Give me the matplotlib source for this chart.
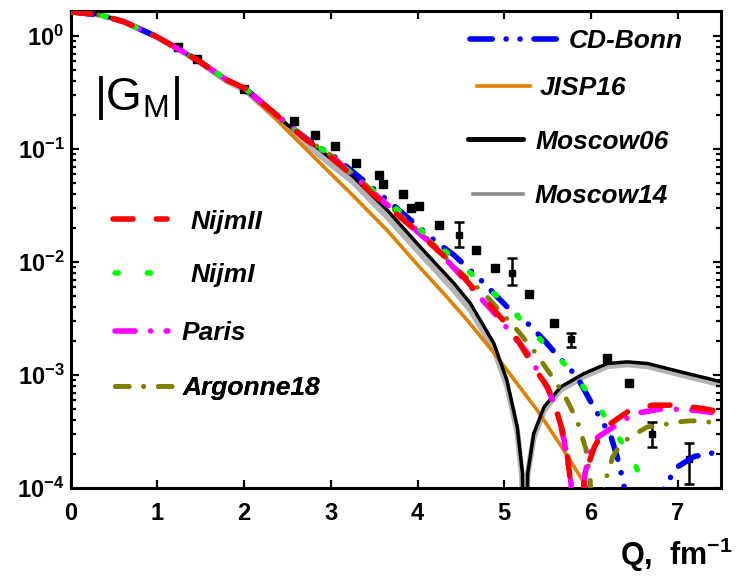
import numpy as np
import matplotlib
matplotlib.use("Agg")
import matplotlib.pyplot as plt
from matplotlib.lines import Line2D
from matplotlib.ticker import FixedLocator, LogLocator, FuncFormatter, NullFormatter

plt.rcParams['font.family'] = ['Liberation Sans', 'DejaVu Sans']
plt.rcParams['mathtext.default'] = 'regular'

# ---------------- data ----------------
# shared low-Q part of all curves
q_head = [0.0, 0.34, 0.61, 0.99, 1.26, 1.49, 1.80, 2.01, 2.26, 2.49]
gm_head = [1.64, 1.535, 1.34, 0.986, 0.752, 0.593, 0.408, 0.344, 0.237, 0.169]

cdbonn_q = [2.73, 3.03, 3.23, 3.65, 4.19, 4.42, 4.73, 5.07, 5.27, 5.46, 5.61, 5.84,
            6.03, 6.23, 6.32, 6.38, 6.60, 6.84, 7.00, 7.19, 7.46, 7.50]
cdbonn_gm = [0.1216, 0.0871, 0.0652, 0.0354, 0.01567, 0.01153, 0.00693, 0.00376,
             0.00287, 0.00204, 0.00150, 0.000966, 0.000525, 0.000288, 0.000170,
             0.000107, 1e-6, 0.000102, 0.000155, 0.000191, 0.000209, 0.000210]

nijm1_q = [2.73, 3.03, 3.21, 3.75, 4.00, 4.26, 4.52, 4.76, 5.02, 5.27, 5.50, 5.73,
           5.96, 6.15, 6.34, 6.52, 6.62, 7.00, 7.48, 7.50]
nijm1_gm = [0.1202, 0.0861, 0.0631, 0.0299, 0.0203, 0.01365, 0.00923, 0.00631,
            0.0043, 0.00267, 0.00178, 0.00118, 0.000711, 0.000443, 0.000266,
            0.000155, 0.000101, 1e-6, 0.000100, 0.000105]

nijm2_q = [2.73, 2.92, 3.11, 3.36, 3.52, 3.78, 3.98, 4.21, 4.40, 4.61, 4.80, 5.02,
           5.17, 5.34, 5.50, 5.59, 5.67, 5.73, 5.77, 5.83, 5.92, 6.04, 6.17, 6.42,
           6.71, 6.98, 7.29, 7.50]
nijm2_gm = [0.1189, 0.0946, 0.0721, 0.0490, 0.0380, 0.0257, 0.0191, 0.0132,
            0.00973, 0.00625, 0.00446, 0.00287, 0.00197, 0.00118, 0.000787,
            0.000525, 0.000326, 0.000189, 0.000103, 1e-6, 0.000126, 0.000232,
            0.000349, 0.000473, 0.000543, 0.000543, 0.000507, 0.000473]

paris_q = [2.73, 3.03, 3.36, 3.78, 4.21, 4.46, 4.61, 4.82, 4.94, 5.27, 5.50, 5.59,
           5.69, 5.77, 5.81, 5.93, 6.00, 6.08, 6.50, 6.84, 7.19, 7.50]
paris_gm = [0.1189, 0.0832, 0.0501, 0.0263, 0.01334, 0.0082, 0.00604, 0.00402,
            0.00318, 0.00156, 0.000762, 0.000525, 0.000266, 0.000111, 1e-6,
            0.000135, 0.000217, 0.000284, 0.000458, 0.000507, 0.000490, 0.000457]

av18_q = [2.73, 3.03, 3.36, 3.78, 4.21, 4.44, 4.57, 4.77, 4.96, 5.17, 5.36, 5.54,
          5.71, 5.84, 5.94, 5.99, 6.06, 6.15, 6.20, 6.25, 6.32, 6.40, 6.52, 6.65,
          6.82, 6.96, 7.15, 7.29, 7.42, 7.50]
av18_gm = [0.1202, 0.0851, 0.0513, 0.0269, 0.0138, 0.00879, 0.00724, 0.00525,
           0.00363, 0.0024, 0.00158, 0.00100, 0.00063, 0.000398, 0.000224,
           0.000126, 1e-6, 0.000110, 0.000139, 0.000189, 0.000232, 0.000266,
           0.000305, 0.000349, 0.000361, 0.000384, 0.000395, 0.000394, 0.000378,
           0.000368]

mos06_q = [2.49, 2.88, 3.26, 3.65, 4.03, 4.42, 4.61, 4.88, 5.03, 5.15, 5.21, 5.237,
           5.27, 5.34, 5.46, 5.65, 5.92, 6.19, 6.42, 6.65, 6.88, 7.11, 7.35, 7.50]
mos06_gm = [0.166, 0.098, 0.0569, 0.0288, 0.01365, 0.00649, 0.00431, 0.00191,
            0.000904, 0.000348, 0.000135, 1e-6, 0.000135, 0.000305, 0.000525,
            0.000787, 0.001035, 0.00127, 0.001312, 0.00127, 0.001146, 0.001035,
            0.000935, 0.000873]

mos14_q = [1.49, 1.80, 2.01, 2.26, 2.49, 2.88, 3.26, 3.65, 4.03, 4.42, 4.61, 4.88,
           5.03, 5.15, 5.205, 5.23, 5.265, 5.34, 5.46, 5.65, 5.92, 6.19, 6.42, 6.65,
           6.88, 7.11, 7.35, 7.50]
mos14_gm = [0.582, 0.398, 0.331, 0.224, 0.157, 0.0871, 0.0507, 0.0251, 0.0119,
            0.00565, 0.00376, 0.0017, 0.000813, 0.000316, 0.000126, 1e-6, 0.000126,
            0.000282, 0.00049, 0.000741, 0.000977, 0.0012, 0.001245, 0.0012,
            0.001084, 0.000977, 0.000881, 0.000822]

jisp_q = [2.01, 2.34, 2.88, 3.27, 3.65, 4.03, 4.34, 4.58, 4.88, 5.38, 5.65, 5.96, 6.00]
jisp_gm = [0.335, 0.193, 0.0746, 0.0378, 0.0191, 0.00891, 0.0049, 0.00302, 0.00158,
           0.00049, 0.00024, 0.000100, 1e-6]

exp_q = [1.24, 1.46, 2.00, 2.58, 2.82, 3.05, 3.29, 3.55, 3.60, 3.83, 3.93, 4.02,
         4.25, 4.67, 4.89, 5.29, 5.57, 6.18, 6.44]
exp_gm = [0.804, 0.622, 0.343, 0.176, 0.133, 0.106, 0.0747, 0.0589, 0.0495, 0.0402,
          0.0299, 0.0313, 0.0212, 0.01277, 0.00891, 0.00521, 0.00287, 0.001406,
          0.000855]

err_q = [4.48, 5.09, 5.77, 6.70, 7.13]
err_gm = [0.0173, 0.00794, 0.00207, 0.000305, 0.000180]
err_lo = [0.01365, 0.00625, 0.00178, 0.000232, 0.000110]
err_hi = [0.0228, 0.01084, 0.00234, 0.000386, 0.000249]

x_ticks = [0, 1, 2, 3, 4, 5, 6, 7]
y_ticks = [1e-4, 1e-3, 1e-2, 1e-1, 1e0]

# ---------------- figure ----------------
fig = plt.figure(figsize=(7.39, 5.88), dpi=100)
ax = fig.add_axes([0.0957, 0.1696, 0.880, 0.811])
ax.set_yscale('log')

def full(head_n, q, g):
    return (np.concatenate([q_head[:head_n], q]), np.concatenate([gm_head[:head_n], g]))

styles = {
    'CD-Bonn':   dict(color='#0000FF', lw=4.0, dashes=(4.0, 2.5, 0.01, 2.5, 0.01, 2.5), zorder=4),
    'NijmII':    dict(color='#FF0000', lw=4.0, dashes=(3.6, 4.2), zorder=8),
    'NijmI':     dict(color='#00FF00', lw=4.0, dashes=(0.6, 5.2), zorder=7),
    'Paris':     dict(color='#FF00FF', lw=4.0, dashes=(3.6, 2.8, 0.01, 2.8), zorder=6),
    'Argonne18': dict(color='#808000', lw=3.5, dashes=(2.8, 3.0, 0.01, 3.0), zorder=5),
    'JISP16':    dict(color='#E08000', lw=2.6, zorder=2),
    'Moscow06':  dict(color='black', lw=2.5, zorder=3),
    'Moscow14':  dict(color='#B4B4B4', lw=4.2, zorder=1),
}

curves = {
    'CD-Bonn': full(10, cdbonn_q, cdbonn_gm),
    'NijmII': full(10, nijm2_q, nijm2_gm),
    'NijmI': full(10, nijm1_q, nijm1_gm),
    'Paris': full(10, paris_q, paris_gm),
    'Argonne18': full(10, av18_q, av18_gm),
    'JISP16': full(7, jisp_q, jisp_gm),
    'Moscow06': full(9, mos06_q, mos06_gm),
    'Moscow14': full(5, mos14_q, mos14_gm),
}

for name, (q, g) in curves.items():
    st = dict(styles[name])
    kw = dict(color=st['color'], lw=st['lw'], zorder=st['zorder'])
    if 'dashes' in st:
        kw['dashes'] = st['dashes']
        kw['dash_capstyle'] = 'round'
    ax.plot(q, g, **kw)

ax.plot(exp_q, exp_gm, 's', color='black', ms=6, zorder=2.5)
eg = np.array(err_gm)
ax.errorbar(err_q, err_gm, yerr=[eg - np.array(err_lo), np.array(err_hi) - eg],
            fmt='s', color='black', ms=5, elinewidth=1.8, capsize=3.5, capthick=1.8,
            zorder=2.5)

ax.set_xlim(0, 7.5)
ax.set_ylim(1e-4, 1.65)
ax.xaxis.set_major_locator(FixedLocator(x_ticks))
ax.yaxis.set_major_locator(FixedLocator(y_ticks))
ax.yaxis.set_minor_locator(LogLocator(base=10, subs=np.arange(2, 10)))
ax.yaxis.set_minor_formatter(NullFormatter())
ax.yaxis.set_major_formatter(FuncFormatter(lambda v, p: '10$^{%d}$' % int(round(np.log10(v)))))

ax.tick_params(which='both', direction='in', top=True, right=True, width=1.6)
ax.tick_params(which='major', length=6)
ax.tick_params(which='minor', length=3.5)
ax.tick_params(axis='x', labelsize=17, pad=10)
ax.tick_params(axis='y', labelsize=17, pad=4.5)
for lab in ax.get_xticklabels() + ax.get_yticklabels():
    lab.set_fontweight('bold')
for sp in ax.spines.values():
    sp.set_linewidth(2.2)

ax.set_xlabel('Q,  fm$^{-1}$', fontsize=22, fontweight='bold', loc='right')
ax.xaxis.set_label_coords(1.018, -0.10)

ax.text(0.036, 0.793, '|G$_{M}$|', transform=ax.transAxes, fontsize=33,
        fontweight='normal', va='baseline', ha='left')

# ---------------- legends ----------------
lprop = dict(family='Liberation Sans', weight='bold', style='italic', size=19)
leg_pos = {
    'CD-Bonn':   (0.614, 0.937, 3.41, 0.34),
    'JISP16':    (0.625, 0.839, 2.00, 0.38),
    'Moscow06':  (0.611, 0.727, 2.08, 0.49),
    'Moscow14':  (0.619, 0.612, 1.90, 0.42),
    'NijmII':    (0.065, 0.559, 2.05, 0.87),
    'NijmI':     (0.068, 0.447, 1.60, 1.25),
    'Paris':     (0.068, 0.325, 2.00, 0.52),
    'Argonne18': (0.068, 0.210, 2.16, 0.40),
}
for name, (xf, yf, hl, hp) in leg_pos.items():
    st = styles[name]
    kw = dict(color=st['color'], lw=st['lw'])
    if 'dashes' in st:
        kw['dashes'] = st['dashes']
        kw['dash_capstyle'] = 'round'
    if name == 'Moscow14':
        kw['color'] = '#8C8C8C'
        kw['lw'] = 2.6
    if name == 'Moscow06':
        kw['lw'] = 3.6
        kw['solid_capstyle'] = 'round'
    handle = Line2D([], [], **kw)
    leg = ax.legend([handle], [name], loc='center left', bbox_to_anchor=(xf, yf),
                    frameon=False, borderpad=0, borderaxespad=0, handlelength=hl,
                    handletextpad=hp, prop=lprop)
    ax.add_artist(leg)

fig.savefig('out.png', dpi=100)
